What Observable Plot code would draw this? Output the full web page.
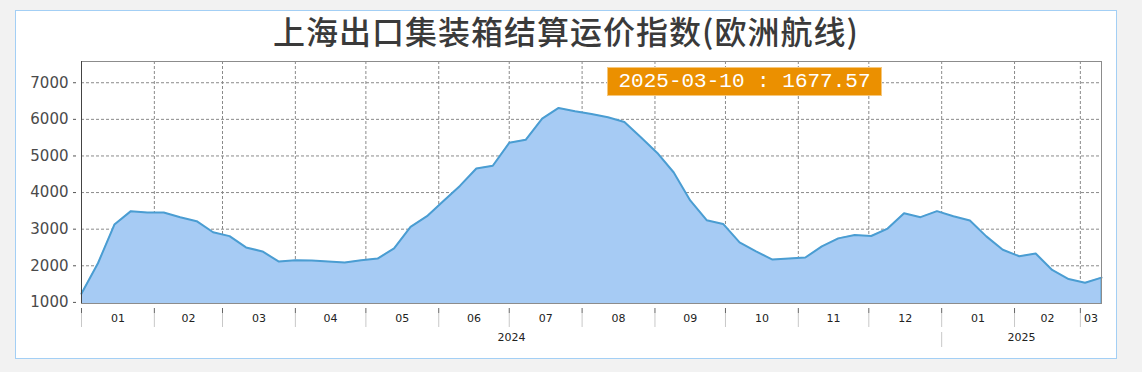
<!DOCTYPE html>
<html>
<head>
<meta charset="utf-8">
<script src="https://cdn.jsdelivr.net/npm/d3@7"></script>
<script src="https://cdn.jsdelivr.net/npm/@observablehq/plot@0.6"></script>
<style>
  html, body { margin: 0; padding: 0; background: #f2f2f2; }
  #panel {
    position: absolute; left: 15px; top: 10px;
    width: 1100px; height: 347px;
    background: #ffffff; border: 1px solid #a3cff5;
  }
  #title {
    height: 40px; line-height: 38px; text-align: center;
    font-family: "Noto Sans CJK SC", sans-serif; font-size: 32px; font-weight: 500;
    color: #3a3a3a; letter-spacing: 1px;
  }
  #chart svg { display: block; }
  #badge {
    position: absolute; left: 591px; top: 56px; width: 273px; height: 27px;
    background: #eb9000; border: 1px solid #f6c77c;
    color: #ffffff; font-family: "Liberation Mono", monospace; font-size: 21px;
    line-height: 27px; text-align: center; white-space: pre;
  }
</style>
</head>
<body>
<div id="panel">
  <div id="title">上海出口集装箱结算运价指数(欧洲航线)</div>
  <div id="chart"></div>
  <div id="badge"></div>
</div>
<script>
// ---- data ----
const startDate = "2024-01-01";   // first weekly observation (Monday)
const values = [
  1242, 2069, 3127, 3493, 3457, 3457, 3328, 3218, 2915, 2810,
  2501, 2391, 2116, 2152, 2143, 2116, 2088, 2152, 2198, 2474,
  3061, 3355, 3769, 4182, 4658, 4733, 5358, 5441, 6019, 6311,
  6220, 6146, 6055, 5926, 5512, 5083, 4548, 3785, 3245, 3143,
  2639, 2391, 2171, 2198, 2226, 2529, 2749, 2840, 2813, 3016,
  3434, 3328, 3493, 3355, 3237, 2804, 2438, 2262, 2336, 1887,
  1639, 1537, 1677.57
];
const monthStarts = [
  "2024-01-01", "2024-02-01", "2024-03-01", "2024-04-01", "2024-05-01", "2024-06-01",
  "2024-07-01", "2024-08-01", "2024-09-01", "2024-10-01", "2024-11-01", "2024-12-01",
  "2025-01-01", "2025-02-01", "2025-03-01"
];
const monthLabels = ["01","02","03","04","05","06","07","08","09","10","11","12","01","02","03"];
const yearLabels = ["2024", "2025"];
const yearStarts = ["2024-01-01", "2025-01-01"];
const yTicks = [1000, 2000, 3000, 4000, 5000, 6000, 7000];
const yDomain = [970, 7580];

// ---- build tables ----
const t0 = new Date(startDate + "T00:00:00Z");
const rows = values.map((v, i) => ({ date: new Date(+t0 + i * 7 * 864e5), value: v }));
const last = rows[rows.length - 1];
const endDate = last.date;
const mStarts = monthStarts.map(s => new Date(s + "T00:00:00Z"));
const months = mStarts.map((d, i) => {
  const next = i + 1 < mStarts.length ? mStarts[i + 1] : endDate;
  return { mid: new Date((+d + +next) / 2), label: monthLabels[i] };
});
const yStarts = yearStarts.map(s => new Date(s + "T00:00:00Z"));
const years = yStarts.map((d, i) => {
  const next = i + 1 < yStarts.length ? yStarts[i + 1] : endDate;
  return { mid: new Date((+d + +next) / 2), label: yearLabels[i] };
});

const gridStyle = { stroke: "#8a8a8a", strokeOpacity: 1, strokeDasharray: "3,2" };
const lineColor = "#4a9dd2";

const chart = Plot.plot({
  width: 1100,
  height: 307,
  marginLeft: 65,
  marginRight: 15,
  marginTop: 10,
  marginBottom: 55,
  x: { type: "utc", domain: [t0, endDate] },
  y: { domain: yDomain, label: null },
  style: { fontFamily: "DejaVu Sans, sans-serif", background: "transparent", color: "#333" },
  marks: [
    Plot.gridY(yTicks, gridStyle),
    Plot.gridX(mStarts.slice(1), gridStyle),
    Plot.areaY(rows, { x: "date", y: "value", fill: "#a6cbf4", clip: true }),
    Plot.lineY(rows, { x: "date", y: "value", stroke: lineColor, strokeWidth: 2 }),
    Plot.ruleX([last], { x: "date", y1: "value", y2: () => 0, stroke: lineColor, strokeWidth: 2, clip: true }),
    Plot.frame({ stroke: "#8c8c8c" }),
    Plot.ruleX([t0], { stroke: "#444" }),
    Plot.axisY(yTicks, {
      tickSize: 3, tickPadding: 5, dx: -5, tickFormat: d => String(d),
      fontSize: 15, fill: "#4a4a4a", stroke: "#555", label: null
    }),
    Plot.axisX(mStarts, { tickSize: 5, dy: 5, fill: "none", stroke: "#666", label: null }),
    Plot.axisX(mStarts, { tickSize: 14, dy: 10, fill: "none", stroke: "#c8c8c8", label: null }),
    Plot.axisX([yStarts[1]], { tickSize: 15, dy: 29, fill: "none", stroke: "#c8c8c8", label: null }),
    Plot.text(months, { x: "mid", text: "label", frameAnchor: "bottom", dy: 18, fontSize: 11, fill: "#222" }),
    Plot.text(years, { x: "mid", text: "label", frameAnchor: "bottom", dy: 37, fontSize: 11, fill: "#222" })
  ]
});
document.getElementById("chart").appendChild(chart);

const fmt = d3.utcFormat("%Y-%m-%d");
document.getElementById("badge").textContent = fmt(last.date) + " : " + last.value.toFixed(2);
</script>
</body>
</html>
